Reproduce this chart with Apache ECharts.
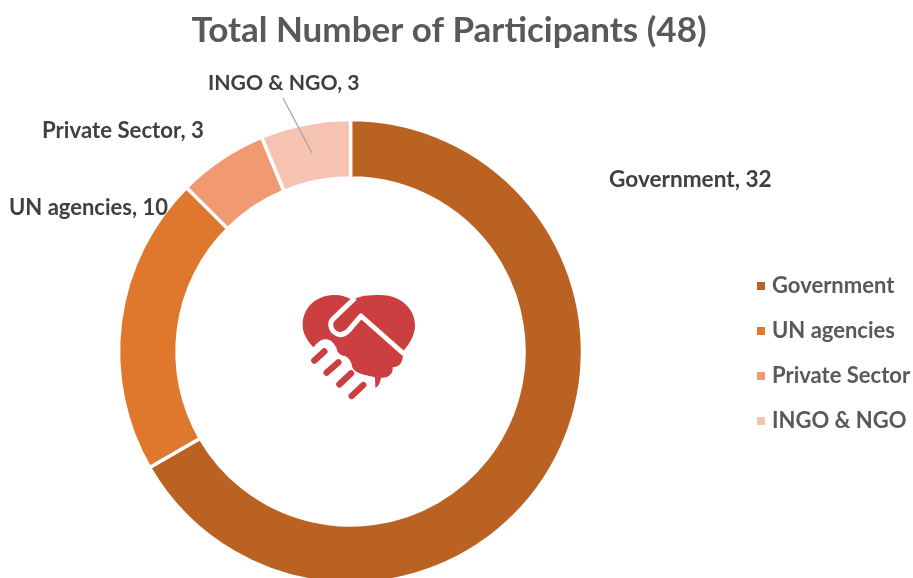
<!DOCTYPE html>
<html>
<head>
<meta charset="utf-8">
<style>html,body{margin:0;padding:0;background:#fff}#c{width:913px;height:578px}</style>
<script src="https://cdn.jsdelivr.net/npm/echarts@6/dist/echarts.min.js"></script>
</head>
<body>
<div id="c"></div>
<script>
const titleText = 'Total Number of Participants (48)';
const categories = ['Government', 'UN agencies', 'Private Sector', 'INGO & NGO'];
const values = [32, 10, 3, 3];
const colors = ['#B96222', '#DF772C', '#F19A72', '#F6C2B1'];
const FONT = 'Lato, "Open Sans", sans-serif';
const labelSpots = {
  'Government': {x: 609, y: 180, align: 'left', size: 22.6},
  'UN agencies': {x: 9, y: 208, align: 'left', size: 22},
  'Private Sector': {x: 42, y: 131, align: 'left', size: 22.2},
  'INGO & NGO': {x: 208, y: 83, align: 'left', size: 21.2}
};
const leader = {x1: 283, y1: 98, x2: 312, y2: 153};
const heartPath = 'M100 232 C75 205 66 180 68 160 C72 105 115 75 165 75 C185 75 203 81 217 90 C240 77 265 75 300 75 C360 75 405 115 405 165 C405 195 390 220 372 240 L368 262 C368 280 355 292 338 292 C340 312 325 325 303 323 C300 340 295 350 286 353 L285 322 L252 314 C240 312 222 305 217 292 C215 275 205 262 195 258 C180 258 170 245 170 235 C160 215 150 208 135 208 C120 208 110 222 100 232 Z';
const slitPath = 'M225 84 L158 148 C145 165 155 188 178 194 C192 194 200 188 207 180 L243 138 L372 252';
const fingers = [[[103, 272], [133, 244]], [[140, 308], [175, 277]], [[178, 343], [213, 310]], [[215, 378], [250, 345]]];

echarts.graphic.registerShape('heartBody', echarts.graphic.extendPath(heartPath, {}));
echarts.graphic.registerShape('heartSlit', echarts.graphic.extendPath(slitPath, {}));

const chart = echarts.init(document.getElementById('c'), null, {renderer: 'canvas'});
chart.setOption({
  animation: false,
  backgroundColor: '#fff',
  textStyle: {fontFamily: FONT},
  title: {
    text: titleText, left: 444, top: 8, textAlign: 'center',
    textStyle: {fontFamily: FONT, fontSize: 35, fontWeight: 'bold', color: '#595959'}
  },
  legend: {
    orient: 'vertical', left: 755, top: 272, padding: 0, icon: 'rect',
    itemWidth: 10, itemHeight: 10, itemGap: 17,
    data: categories,
    textStyle: {fontFamily: FONT, fontSize: 22, fontWeight: 'bold', color: '#595959', padding: [0, 0, 0, 1], lineHeight: 28}
  },
  series: [{
    type: 'pie',
    center: [350.5, 351.5],
    radius: [173.5, 232],
    startAngle: 90,
    clockwise: true,
    avoidLabelOverlap: false,
    itemStyle: {borderColor: '#fff', borderWidth: 3.5},
    emphasis: {disabled: true},
    label: {
      show: true, position: 'outside', formatter: '{b}, {c}',
      fontFamily: FONT, fontSize: 22, fontWeight: 'bold', color: '#404040'
    },
    labelLine: {show: false},
    labelLayout: function (p) {
      const s = labelSpots[categories[p.dataIndex]];
      return {x: s.x, y: s.y, align: s.align, verticalAlign: 'middle'};
    },
    data: categories.map((name, i) => ({
      name, value: values[i],
      itemStyle: {color: colors[i]},
      label: {fontSize: labelSpots[name].size}
    }))
  }],
  graphic: [
    {type: 'line', shape: leader, z: 100, silent: true, style: {stroke: '#A6A6A6', lineWidth: 1.3}},
    {
      type: 'group', x: 280, y: 270, scaleX: 1 / 3, scaleY: 1 / 3, silent: true,
      children: [
        {type: 'heartBody', style: {fill: '#CB3F40'}},
        {type: 'heartSlit', style: {fill: 'none', stroke: '#fff', lineWidth: 15, lineJoin: 'round'}}
      ].concat(fingers.map(f => ({
        type: 'line', shape: {x1: f[0][0], y1: f[0][1], x2: f[1][0], y2: f[1][1]},
        style: {stroke: '#CB3F40', lineWidth: 19, lineCap: 'round'}
      })))
    }
  ]
});
</script>
</body>
</html>
